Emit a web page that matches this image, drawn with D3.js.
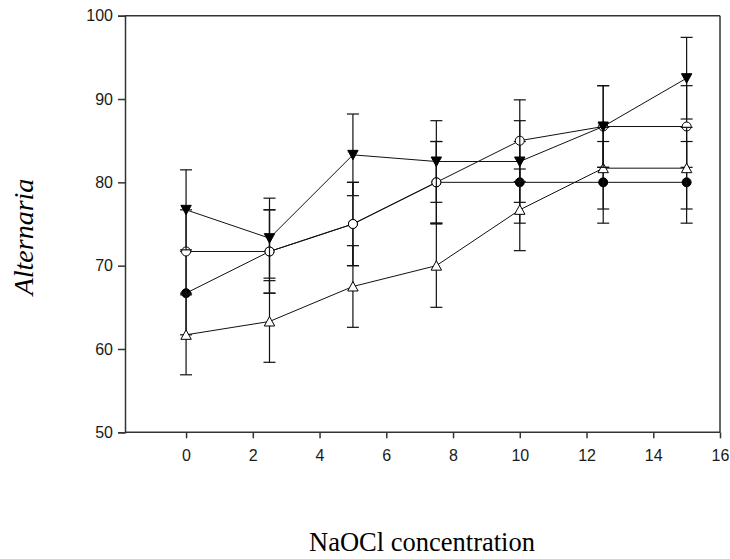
<!DOCTYPE html>
<html>
<head>
<meta charset="utf-8">
<script src="https://cdn.jsdelivr.net/npm/d3@7"></script>
<style>
  html, body { margin: 0; padding: 0; background: #fff; }
  svg { display: block; }
</style>
</head>
<body>
<svg id="chart" width="730" height="559"></svg>
<script>
// ---- data ----
const concentrations = [0, 2.5, 5, 7.5, 10, 12.5, 15];
const filledCircle   = [66.7, 71.7, 75.0, 80.0, 80.0, 80.0, 80.0];
const filledCircleErr= [5.0, 5.0, 5.0, 4.9, 4.9, 4.9, 4.9];
const openCircle     = [71.7, 71.7, 75.0, 80.0, 85.0, 86.7, 86.7];
const openCircleErr  = [5.0, 5.0, 5.0, 4.9, 4.9, 4.9, 4.9];
const openTriangle   = [61.7, 63.3, 67.5, 70.0, 76.7, 81.7, 81.7];
const openTriangleErr= [4.8, 4.9, 4.9, 5.0, 4.9, 4.9, 4.9];
const filledTriDown  = [76.7, 73.3, 83.3, 82.5, 82.5, 86.7, 92.5];
const filledTriDownErr=[4.8, 4.8, 4.9, 4.9, 4.9, 4.9, 4.9];
const xTicks = [0, 2, 4, 6, 8, 10, 12, 14, 16];
const yTicks = [50, 60, 70, 80, 90, 100];
const xTitle = "NaOCl concentration";
const yTitle = "Alternaria";

(function () {
// ---- layout ----
const svg = d3.select("#chart");
const pLeft = 125, pRight = 720, pTop = 15.7, pBottom = 432.3;
const x = d3.scaleLinear().domain([-1.83, 16]).range([pLeft, pRight]);
const y = d3.scaleLinear().domain([50, 100]).range([pBottom, pTop]);
const axisColor = "#333";
const textColor = "#1a1a1a";

// frame (top + right)
svg.append("line").attr("x1", pLeft).attr("x2", pRight).attr("y1", pTop).attr("y2", pTop)
  .attr("stroke", axisColor).attr("stroke-width", 1.5);
svg.append("line").attr("x1", pRight).attr("x2", pRight).attr("y1", pTop).attr("y2", pBottom)
  .attr("stroke", axisColor).attr("stroke-width", 1.5);

// axes
const xAxis = d3.axisBottom(x).tickValues(xTicks).tickSizeOuter(0).tickSize(6).tickPadding(11);
const gx = svg.append("g").attr("transform", `translate(0,${pBottom})`).call(xAxis);
const yAxis = d3.axisLeft(y).tickValues(yTicks).tickSizeOuter(0).tickSize(7).tickPadding(5);
const gy = svg.append("g").attr("transform", `translate(${pLeft},0)`).call(yAxis);
[gx, gy].forEach(g => {
  g.select(".domain").attr("stroke", axisColor).attr("stroke-width", 1.5);
  g.selectAll(".tick line").attr("stroke", axisColor).attr("stroke-width", 1.5);
  g.selectAll(".tick text").attr("fill", textColor)
    .style("font-family", "'Liberation Sans', Arial, sans-serif").style("font-size", "16px");
});
gx.select(".domain").attr("d", `M${pLeft},0H${pRight}`);

// series
const series = [
  { vals: filledCircle, err: filledCircleErr, shape: "circle", fill: "#000" },
  { vals: openCircle, err: openCircleErr, shape: "circle", fill: "#fff" },
  { vals: openTriangle, err: openTriangleErr, shape: "triUp", fill: "#fff" },
  { vals: filledTriDown, err: filledTriDownErr, shape: "triDown", fill: "#000" }
];

const line = d3.line().x(d => x(d.c)).y(d => y(d.v));
const capHalf = 6;

series.forEach(s => {
  const pts = concentrations.map((c, i) => ({ c, v: s.vals[i], e: s.err[i] }));
  const g = svg.append("g");
  g.append("path").attr("d", line(pts)).attr("fill", "none")
    .attr("stroke", "#111").attr("stroke-width", 1);
  pts.forEach(p => {
    const px = x(p.c), yt = y(p.v + p.e), yb = y(p.v - p.e);
    g.append("line").attr("x1", px).attr("x2", px).attr("y1", yt).attr("y2", yb)
      .attr("stroke", "#111").attr("stroke-width", 1.2);
    [yt, yb].forEach(yy => g.append("line")
      .attr("x1", px - capHalf).attr("x2", px + capHalf).attr("y1", yy).attr("y2", yy)
      .attr("stroke", "#111").attr("stroke-width", 1.2));
  });
  s.g = g; s.pts = pts;
});

// markers on top
series.forEach(s => {
  s.pts.forEach(p => {
    const px = x(p.c), py = y(p.v);
    let el;
    if (s.shape === "circle") {
      el = s.g.append("circle").attr("cx", px).attr("cy", py).attr("r", 4.5);
    } else if (s.shape === "triUp") {
      el = s.g.append("path").attr("d", `M${px},${py - 5}L${px + 5.2},${py + 4.5}L${px - 5.2},${py + 4.5}Z`);
    } else {
      el = s.g.append("path").attr("d", `M${px},${py + 5}L${px + 5.2},${py - 4.5}L${px - 5.2},${py - 4.5}Z`);
    }
    el.attr("fill", s.fill).attr("stroke", "#000").attr("stroke-width", 1);
  });
});

// titles
svg.append("text").attr("x", 422).attr("y", 551).attr("text-anchor", "middle")
  .attr("fill", "#000")
  .style("font-family", "'Liberation Serif', 'Times New Roman', serif").style("font-size", "26.5px")
  .text(xTitle);
svg.append("text").attr("transform", "translate(33,237) rotate(-90)").attr("text-anchor", "middle")
  .attr("fill", "#000")
  .style("font-family", "'Liberation Serif', 'Times New Roman', serif").style("font-size", "28px")
  .style("font-style", "italic")
  .text(yTitle);
})();
</script>
</body>
</html>
